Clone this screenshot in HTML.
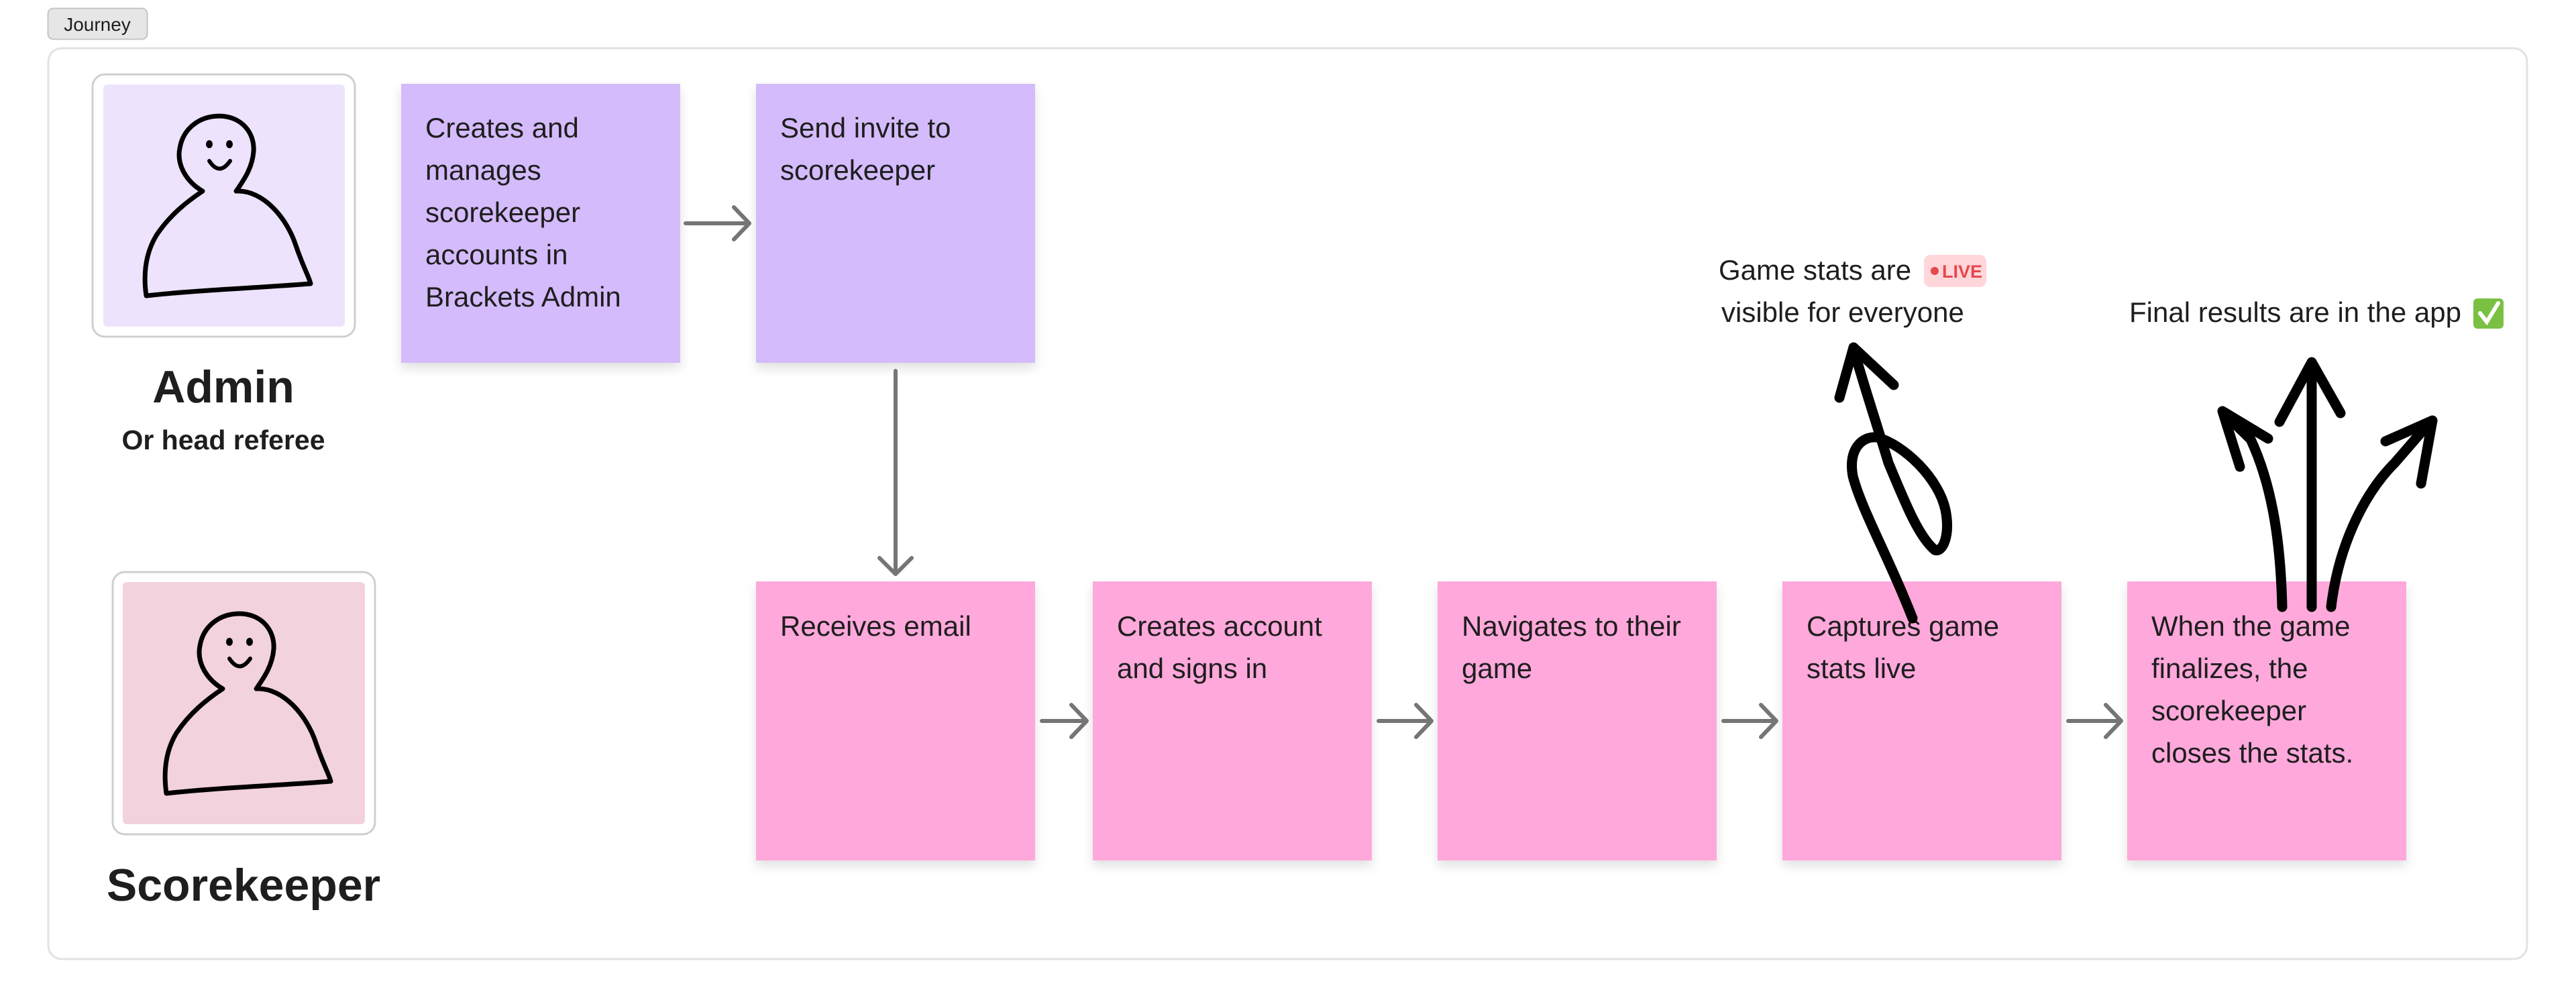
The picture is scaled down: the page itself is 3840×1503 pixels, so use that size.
<!DOCTYPE html>
<html><head><meta charset="utf-8"><style>
html,body{margin:0;padding:0;background:#fff;}
svg{display:block;}
text{font-family:"Liberation Sans",sans-serif;fill:#1e1e1e;}
</style></head><body>
<svg width="3840" height="1503" viewBox="0 0 3840 1503" xmlns="http://www.w3.org/2000/svg">
<defs>
<filter id="sh" x="-10%" y="-10%" width="120%" height="130%"><feDropShadow dx="0" dy="8" stdDeviation="8" flood-color="#000" flood-opacity="0.12"/></filter>
<g id="person">
<path d="M164 174 C140 160 125 135 130 110 C135 80 160 62 189 62 C220 62 242 85 240 115 C238 140 225 158 214 174 C255 172 290 215 303 255 C315 290 322 300 325 312 C250 318 150 322 80 330 C75 295 80 265 95 240 C115 210 140 190 164 174 Z" fill="none" stroke="#000" stroke-width="7" stroke-linejoin="round" stroke-linecap="round"/>
<ellipse cx="174" cy="104" rx="5" ry="6" fill="#000"/>
<ellipse cx="204" cy="104" rx="5" ry="6" fill="#000"/>
<path d="M174 129 Q189 152 205 129" fill="none" stroke="#000" stroke-width="6" stroke-linecap="round"/>
</g>
</defs>

<rect x="71.5" y="12.5" width="148" height="46" rx="8" fill="#e6e6e6" stroke="#c4c4c4" stroke-width="2"/>
<text x="145" y="46" font-size="28" text-anchor="middle">Journey</text>

<rect x="72" y="72" width="3695" height="1358" rx="20" fill="#fff" stroke="#e2e2e2" stroke-width="3"/>

<rect x="138" y="111" width="391" height="391" rx="18" fill="#fff" stroke="#cfcfcf" stroke-width="3"/>
<rect x="154" y="126" width="360" height="361" rx="6" fill="#ede3fc"/>
<use href="#person" x="138" y="111"/>
<text x="333" y="600" font-size="68" font-weight="bold" text-anchor="middle">Admin</text>
<text x="333" y="670" font-size="41" font-weight="bold" text-anchor="middle">Or head referee</text>

<rect x="168" y="853" width="391" height="391" rx="18" fill="#fff" stroke="#cfcfcf" stroke-width="3"/>
<rect x="183" y="868" width="361" height="361" rx="6" fill="#f2d2dc"/>
<use href="#person" x="168" y="853"/>
<text x="363" y="1343" font-size="68" font-weight="bold" text-anchor="middle">Scorekeeper</text>

<g filter="url(#sh)">
<rect x="598" y="125" width="416" height="416" fill="#d4bbfb"/>
<rect x="1127" y="125" width="416" height="416" fill="#d4bbfb"/>
</g>
<g font-size="42">
<text x="634" y="205">Creates and</text>
<text x="634" y="268">manages</text>
<text x="634" y="331">scorekeeper</text>
<text x="634" y="394">accounts in</text>
<text x="634" y="457">Brackets Admin</text>
<text x="1163" y="205">Send invite to</text>
<text x="1163" y="268">scorekeeper</text>
</g>

<g filter="url(#sh)" fill="#ffa8db">
<rect x="1127" y="867" width="416" height="416"/>
<rect x="1629" y="867" width="416" height="416"/>
<rect x="2143" y="867" width="416" height="416"/>
<rect x="2657" y="867" width="416" height="416"/>
<rect x="3171" y="867" width="416" height="416"/>
</g>
<g font-size="42">
<text x="1163" y="948">Receives email</text>
<text x="1665" y="948">Creates account</text>
<text x="1665" y="1011">and signs in</text>
<text x="2179" y="948">Navigates to their</text>
<text x="2179" y="1011">game</text>
<text x="2693" y="948">Captures game</text>
<text x="2693" y="1011">stats live</text>
<text x="3207" y="948">When the game</text>
<text x="3207" y="1011">finalizes, the</text>
<text x="3207" y="1074">scorekeeper</text>
<text x="3207" y="1137">closes the stats.</text>
</g>

<g stroke="#757575" stroke-width="6" fill="none" stroke-linecap="round" stroke-linejoin="round">
<path d="M1022 333 H1116 M1094 309 L1117 333 L1094 357"/>
<path d="M1335 553 V855 M1311 832 L1335 856 L1359 832"/>
<path d="M1553 1075 H1619 M1597 1051 L1620 1075 L1597 1099"/>
<path d="M2055 1075 H2133 M2111 1051 L2134 1075 L2111 1099"/>
<path d="M2569 1075 H2647 M2625 1051 L2648 1075 L2625 1099"/>
<path d="M3083 1075 H3161 M3139 1051 L3162 1075 L3139 1099"/>
</g>

<text x="2562" y="417" font-size="42">Game stats are</text>
<rect x="2868" y="380" width="93" height="48" rx="10" fill="#ffd6da"/>
<circle cx="2884" cy="404" r="6" fill="#e5484d"/>
<text x="2895" y="414" font-size="27" font-weight="bold" style="fill:#e5484d">LIVE</text>
<text x="2566" y="480" font-size="42">visible for everyone</text>
<text x="3174" y="480" font-size="42">Final results are in the app</text>
<rect x="3687" y="445" width="45" height="45" rx="6" fill="#7ac143"/>
<path d="M3697 467 L3707 480 L3724 452" stroke="#fff" stroke-width="6" fill="none" stroke-linecap="round"/>

<g stroke="#000" stroke-width="15" fill="none" stroke-linecap="round" stroke-linejoin="round">
<path d="M2851 922 C2815 830 2775 760 2762 710 C2755 670 2775 650 2798 652 C2840 664 2890 714 2900 760 C2908 800 2895 825 2884 820 C2860 800 2840 750 2815 690 C2800 640 2780 580 2763 520"/>
<path d="M2742 593 L2763 518 L2823 574"/>
<path d="M3446 905 V545"/>
<path d="M3398 629 L3446 540 L3489 616"/>
<path d="M3402 905 C3400 820 3390 730 3355 655 L3315 616"/>
<path d="M3339 696 L3313 613 L3381 654"/>
<path d="M3475 905 C3485 820 3520 740 3570 690 L3622 630"/>
<path d="M3556 658 L3626 627 L3609 721"/>
</g>
</svg>
</body></html>
